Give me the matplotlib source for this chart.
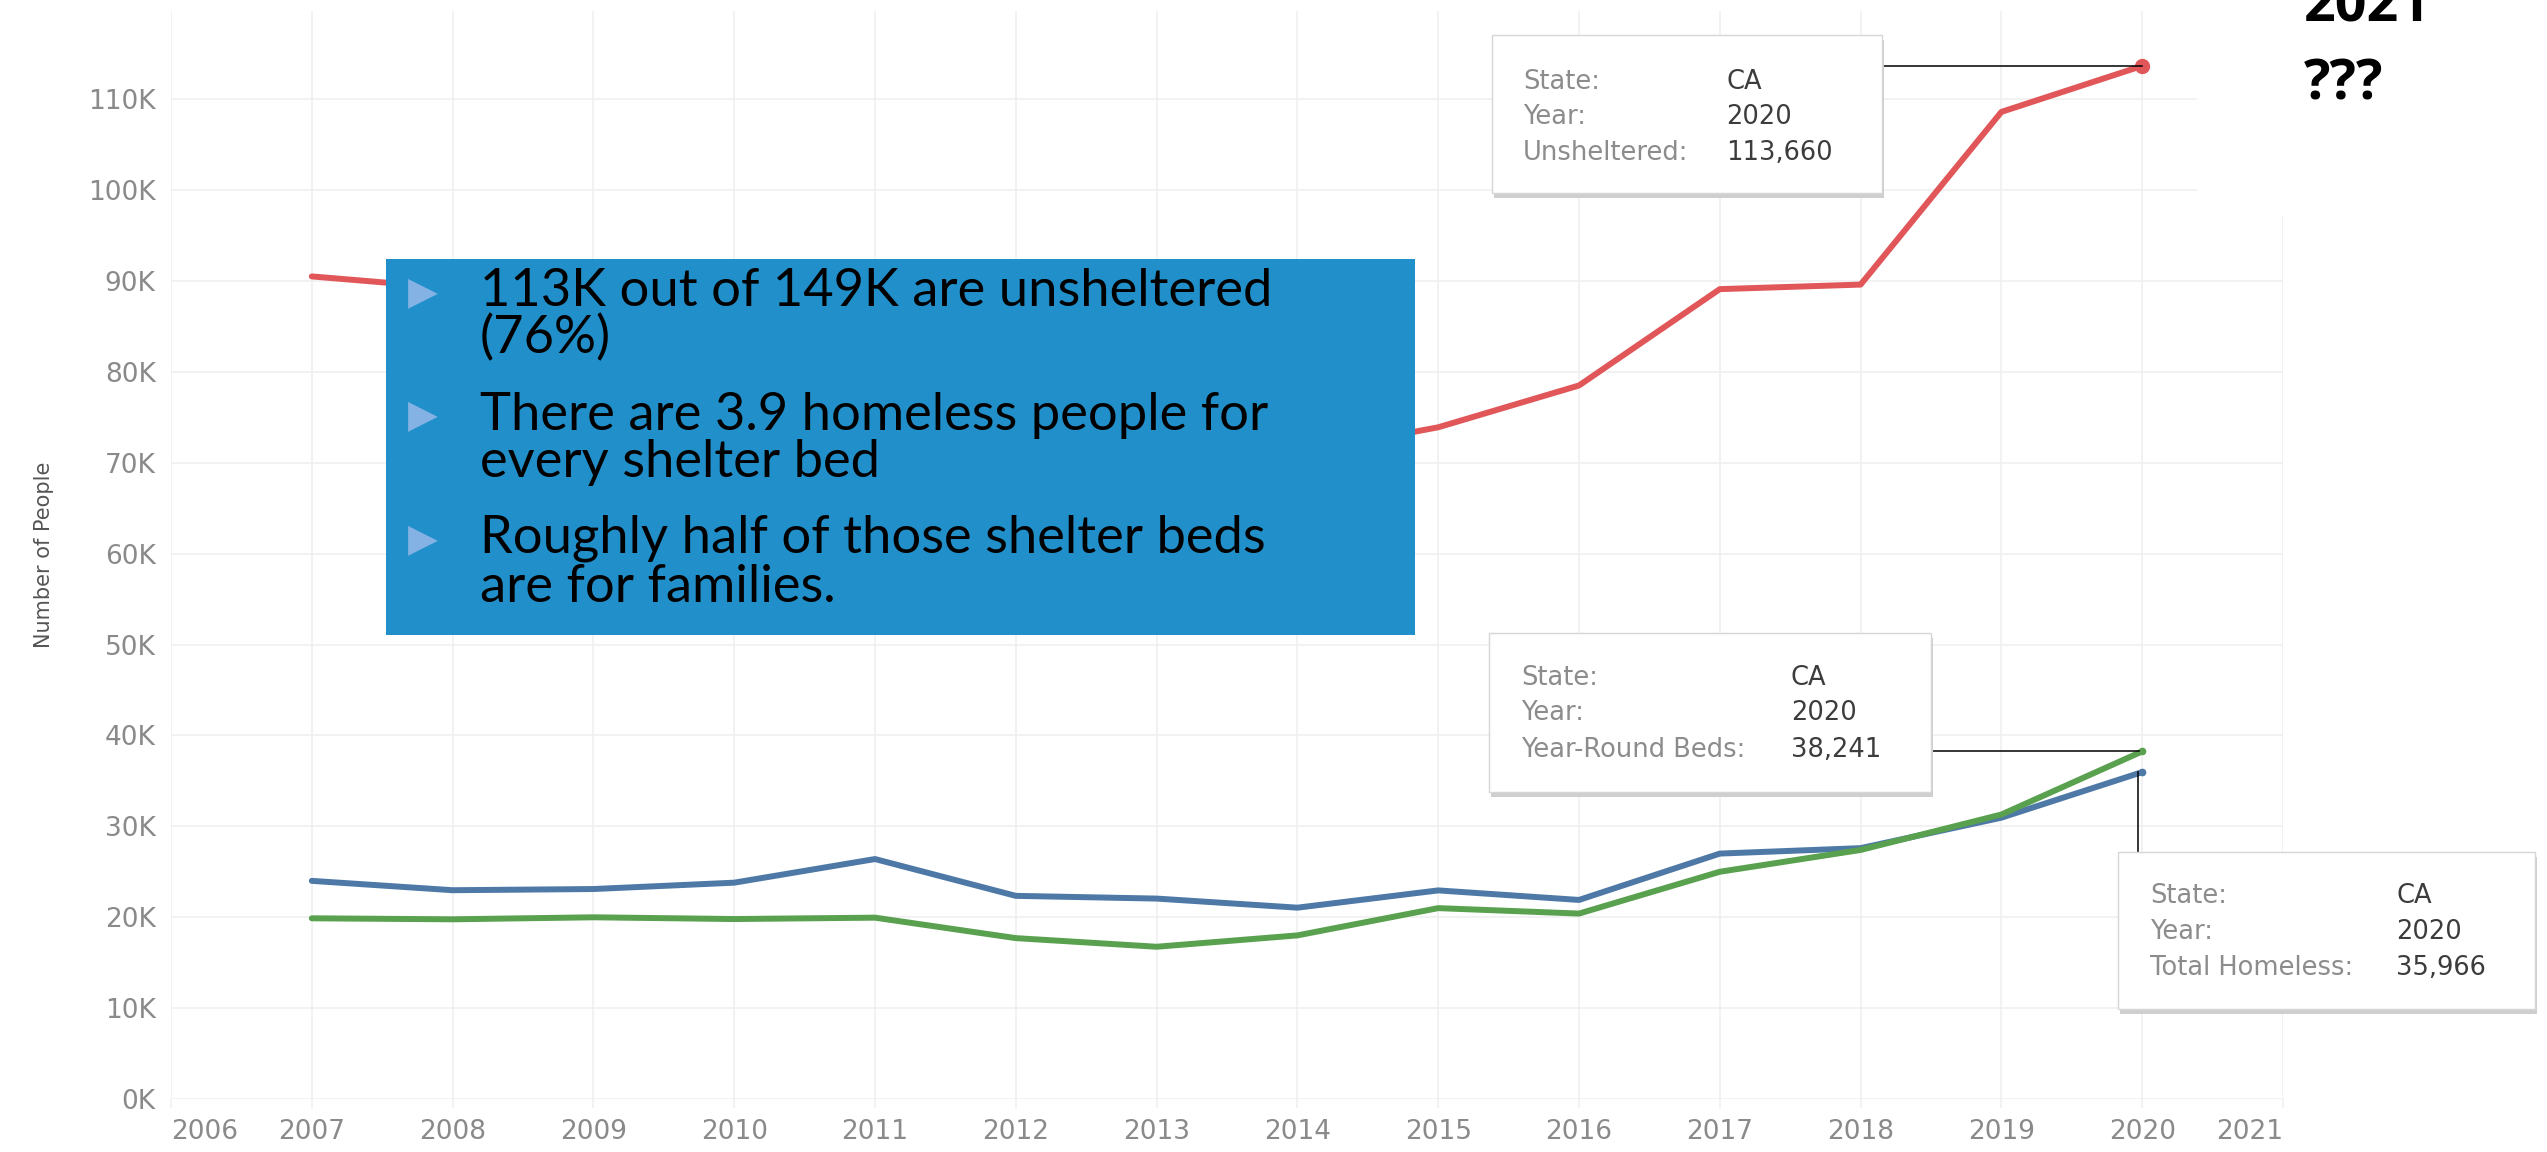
import matplotlib
matplotlib.use("Agg")
import matplotlib.pyplot as plt
from matplotlib.patches import Rectangle
from matplotlib.lines import Line2D

# ─── DATA ─────────────────────────────────────────────────────────────────────
years           = list(range(2007, 2021))
unsheltered     = [90500, 89200, 82000, 75000, 76000, 78000, 74000,
                   71000, 73900, 78500, 89100, 89600, 108600, 113660]
total_homeless  = [24000, 22970, 23100, 23800, 26400, 22350, 22050,
                   21050, 22950, 21900, 27000, 27600, 30950, 35966]
year_round_beds = [19880, 19770, 19990, 19800, 19950, 17700, 16750,
                   18000, 21000, 20400, 25000, 27400, 31300, 38241]

x_ticks  = list(range(2006, 2022))
y_ticks  = list(range(0, 110001, 10000))
y_labels = [f"{v // 1000}K" for v in y_ticks]

bullets = [
    ["113K out of 149K are unsheltered", "(76%)"],
    ["There are 3.9 homeless people for", "every shelter bed"],
    ["Roughly half of those shelter beds", "are for families."],
]

tips = [
    ("Unsheltered:", "113,660"),
    ("Year-Round Beds:", "38,241"),
    ("Total Homeless:", "35,966"),
]

RED, BLUE, GREEN = "#e15759", "#4e79a7", "#59a14f"
W, H = 2547, 1152

def fx(x):
    return x / W

def fy(y):
    return 1 - y / H

# ─── AXES ─────────────────────────────────────────────────────────────────────
fig = plt.figure(figsize=(W / 100, H / 100), dpi=100)
ax = fig.add_axes([fx(171), fy(1099), fx(2283) - fx(171), fy(11) - fy(1099)])

for vals, col in [(unsheltered, RED), (total_homeless, BLUE), (year_round_beds, GREEN)]:
    ax.plot(years, vals, color=col, lw=4.3, solid_capstyle="round",
            solid_joinstyle="round", zorder=3)
ax.plot(years[-1], unsheltered[-1], "o", ms=10, color=RED, zorder=4)
ax.plot(years[-1], total_homeless[-1], "o", ms=4.5, color=BLUE, zorder=4)
ax.plot(years[-1], year_round_beds[-1], "o", ms=4.5, color=GREEN, zorder=4)

ax.set_xlim(2006, 2021)
ax.set_ylim(0, 119700)
ax.set_xticks(x_ticks)
ax.set_xticklabels([str(y) for y in x_ticks])
ax.set_yticks(y_ticks)
ax.set_yticklabels(y_labels)
ax.grid(True, color="#efefef", lw=1.1)
ax.set_axisbelow(True)
for s in ax.spines.values():
    s.set_visible(False)
ax.tick_params(axis="x", length=6.5, width=1.1, color="#efefef",
               labelsize=19, labelcolor="#8a8a8a", pad=8)
ax.tick_params(axis="y", length=0, labelsize=19, labelcolor="#8a8a8a", pad=11)
xl = ax.get_xticklabels()
xl[0].set_ha("left")
xl[-1].set_ha("right")

fig.text(fx(44), fy(555), "Number of People", rotation=90, ha="center",
         va="center", fontsize=15, color="#555555")

# white box behind the "2021 ???" note
fig.patches.append(Rectangle((fx(2197), fy(215)), 1 - fx(2197), fy(0) - fy(215),
                             transform=fig.transFigure, facecolor="white",
                             edgecolor="none", zorder=1))
fig.text(fx(2304), fy(22), "2021", fontsize=40, fontweight="bold",
         family="Open Sans", color="black", va="baseline", zorder=5)
fig.text(fx(2304), fy(100), "???", fontsize=40, fontweight="bold",
         family="Open Sans", color="black", va="baseline", zorder=5)

# ─── BLUE NOTE BOX ────────────────────────────────────────────────────────────
fig.patches.append(Rectangle((fx(386), fy(635)), fx(1415) - fx(386), fy(259) - fy(635),
                             transform=fig.transFigure, facecolor="#2190ca",
                             edgecolor="none", zorder=1))
baselines = [[306, 353], [430, 477], [553, 602]]
bullet_y = [292, 415, 539]
renderer = fig.canvas.get_renderer()
probe = fig.text(0, 0, bullets[0][0], fontsize=36, family="Lato")
w = probe.get_window_extent(renderer=renderer).width
probe.remove()
fs = 36 * 793 / w
for lines, ys, by in zip(bullets, baselines, bullet_y):
    fig.text(fx(423), fy(by), "\u25B6", fontsize=28, family="DejaVu Sans",
             color="#84b2e4", ha="center", va="center", zorder=5)
    for line, yb in zip(lines, ys):
        fig.text(fx(480), fy(yb), line, fontsize=fs, family="Lato",
                 color="black", va="baseline", zorder=5)

# ─── TOOLTIPS ─────────────────────────────────────────────────────────────────
def tooltip(x0, y0, x1, y1, lab_x, val_x, row_ys, label, value):
    fig.patches.append(Rectangle((fx(x0 + 2), fy(y1 + 5)), fx(x1) - fx(x0),
                                 fy(y0) - fy(y1), transform=fig.transFigure,
                                 facecolor="#cfcfcf", edgecolor="none", zorder=1))
    fig.patches.append(Rectangle((fx(x0), fy(y1)), fx(x1) - fx(x0),
                                 fy(y0) - fy(y1), transform=fig.transFigure,
                                 facecolor="white", edgecolor="#d6d6d6",
                                 lw=1, zorder=1.1))
    rows = [("State:", "CA"), ("Year:", "2020"), (label, value)]
    for (lab, val), yy in zip(rows, row_ys):
        fig.text(fx(lab_x), fy(yy), lab, fontsize=18.5, color="#8c8c8c",
                 va="center", zorder=5)
        fig.text(fx(val_x), fy(yy), val, fontsize=18.5, color="#3c3c3c",
                 va="center", zorder=5)

def to_px(xd, yd):
    px, py = ax.transData.transform((xd, yd))
    return px, H - py

# connectors (drawn in figure pixels, under the tooltip boxes)
def connector(x_a, y_a, x_b, y_b):
    fig.lines.append(Line2D([fx(x_a), fx(x_b)], [fy(y_a), fy(y_b)],
                            transform=fig.transFigure, color="black",
                            lw=1.1, zorder=0.9))

rx, ry = to_px(years[-1], unsheltered[-1])
gx, gy = to_px(years[-1], year_round_beds[-1])
bx, by_ = to_px(years[-1], total_homeless[-1])
connector(1882, ry, rx, ry)
connector(1931, gy, gx - 3, gy)
connector(bx - 4, by_, bx - 4, 852)

tooltip(1492, 35, 1882, 193, 1523, 1726, [82, 117, 153], *tips[0])
tooltip(1489, 633, 1931, 792, 1521, 1791, [678, 713, 750], *tips[1])
tooltip(2118, 852, 2535, 1009, 2150, 2396, [896, 932, 968], *tips[2])

fig.savefig("out.png", dpi=100)
